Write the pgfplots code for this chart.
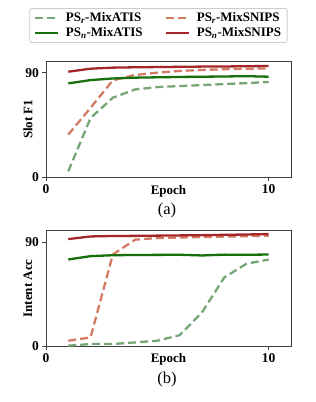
\documentclass[border=0pt]{standalone}
\usepackage{fontspec}
\setmainfont{Liberation Serif}
\usepackage{pgfplots}
\pgfplotsset{compat=1.18}
\definecolor{cgd}{RGB}{118,165,118}
\definecolor{cod}{RGB}{210,122,98}
\definecolor{cgs}{RGB}{22,112,12}
\definecolor{crs}{RGB}{165,38,40}
\pgfplotsset{
  myaxis/.style={
    scale only axis, width=245pt,
    xmin=0, xmax=11, ymin=0, ymax=100,
    xtick={0,10}, ytick={0,90},
    tick align=outside, xtick pos=bottom, ytick pos=left,
    major tick length=3.5pt,
    axis line style={black!75, line width=0.8pt},
    tick style={black!75, line width=0.8pt},
    /pgf/number format/assume math mode=true,
    ticklabel style={font=\fontsize{13.5}{15}\selectfont\bfseries},
    label style={font=\fontsize{13}{15}\selectfont\bfseries},
    xlabel={Epoch},
    xlabel style={at={(axis description cs:0.5,0)}, anchor=center, yshift=-13.4pt},
    ylabel style={at={(axis description cs:-0.0735,0.5)}, anchor=center},
    legend image code/.code={\draw[#1] (0pt,0pt) -- (22.8pt,0pt);},
  },
  pd/.style={line width=2.3pt, dash pattern=on 8pt off 4pt},
  ps/.style={line width=2.3pt},
}
\begin{document}
\begin{tikzpicture}
\useasboundingbox (0,0) rectangle (316pt,402pt);
\begin{axis}[myaxis, at={(46pt,224.5pt)}, anchor=south west, height=116.5pt,
  ylabel={Slot F1},
  legend style={at={(0.459,1.305)}, anchor=center, legend columns=2,
    draw=black!20, rounded corners=2pt, line width=0.8pt,
    font=\fontsize{13}{15}\selectfont\bfseries,
    /tikz/every odd column/.append style={column sep=5pt},
    /tikz/every even column/.append style={column sep=20pt},
    row sep=1pt, inner xsep=4pt, inner ysep=2pt},
  legend cell align=left]
\addplot[cgd, pd] coordinates {(1,5.3) (2,51) (3,68.5) (4,75.6) (5,77.6) (6,78.5) (7,79.3) (8,80.2) (9,81) (10,82)};
\addlegendentry{PS\textsubscript{\textit{r}}-MixATIS}
\addplot[cod, pd] coordinates {(1,36.8) (2,59.8) (3,83.4) (4,88) (5,90) (6,91.5) (7,92.3) (8,93) (9,93.3) (10,93.7)};
\addlegendentry{PS\textsubscript{\textit{r}}-MixSNIPS}
\addplot[cgs, ps] coordinates {(1,80.8) (2,83.6) (3,85) (4,85.7) (5,86) (6,86.3) (7,86.5) (8,86.7) (9,87) (10,86.5)};
\addlegendentry{PS\textsubscript{\textit{n}}-MixATIS}
\addplot[crs, ps] coordinates {(1,90.8) (2,93.4) (3,94.3) (4,94.6) (5,94.8) (6,95) (7,95.2) (8,95.3) (9,95.5) (10,95.7)};
\addlegendentry{PS\textsubscript{\textit{n}}-MixSNIPS}
\end{axis}
\begin{axis}[myaxis, at={(46pt,56pt)}, anchor=south west, height=115.2pt,
  ylabel={Intent Acc}]
\addplot[cgd, pd] coordinates {(1,0.3) (2,1.7) (3,1.7) (4,3.1) (5,4.6) (6,9.4) (7,29) (8,59.4) (9,71.4) (10,75.1)};
\addplot[cod, pd] coordinates {(1,4.6) (2,7.4) (3,79.4) (4,92.3) (5,93.7) (6,94.2) (7,94.6) (8,95) (9,95.3) (10,95.7)};
\addplot[cgs, ps] coordinates {(1,75.1) (2,78) (3,78.8) (4,79) (5,79.1) (6,79.2) (7,78.6) (8,79.3) (9,79.2) (10,79.4)};
\addplot[crs, ps] coordinates {(1,92.8) (2,95.1) (3,95.5) (4,95.6) (5,95.8) (6,96) (7,96.2) (8,96.5) (9,96.8) (10,97.2)};
\end{axis}
\node[font=\fontsize{16.5}{18}\selectfont] at (167pt,191.3pt) {(a)};
\node[font=\fontsize{16.5}{18}\selectfont] at (167pt,22pt) {(b)};
\end{tikzpicture}
\end{document}
